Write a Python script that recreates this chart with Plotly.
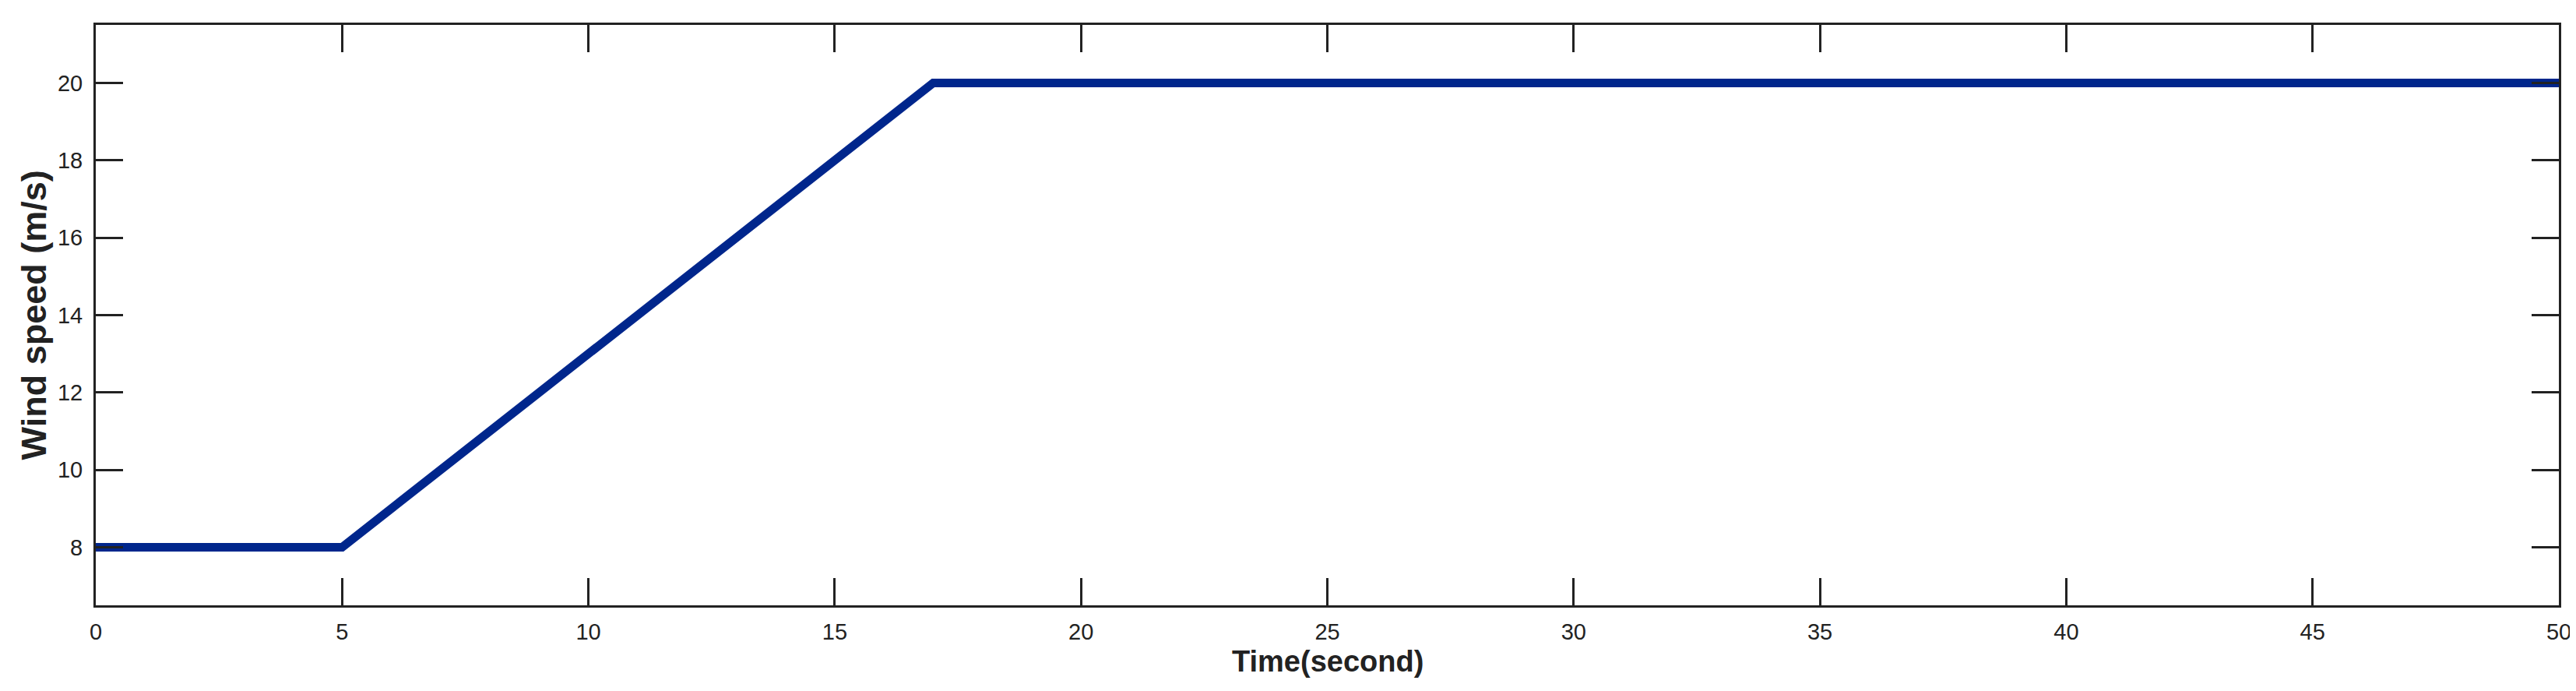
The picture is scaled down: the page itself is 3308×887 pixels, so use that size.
import plotly.graph_objects as go

# wind speed profile: flat, ramp, flat
time_s = [0, 5, 17, 50]
wind_speed = [8, 8, 20, 20]

x_ticks = [0, 5, 10, 15, 20, 25, 30, 35, 40, 45, 50]
y_ticks = [8, 10, 12, 14, 16, 18, 20]

AXIS_COLOR = "#222222"
LINE_COLOR = "#00268C"
FONT = "Liberation Sans, Arial, sans-serif"

fig = go.Figure()
fig.add_trace(go.Scatter(
    x=time_s, y=wind_speed,
    mode="lines",
    line=dict(color=LINE_COLOR, width=11),
    showlegend=False,
    hoverinfo="skip",
))

axis_common = dict(
    showline=True, linecolor=AXIS_COLOR, linewidth=3,
    mirror="ticks",
    ticks="inside", ticklen=35, tickwidth=3, tickcolor=AXIS_COLOR,
    showgrid=False, zeroline=False,
    tickfont=dict(family=FONT, size=29, color=AXIS_COLOR),
)

fig.update_xaxes(range=[0, 50], tickvals=x_ticks, ticklabelstandoff=6, **axis_common)
fig.update_yaxes(range=[6.5, 21.5], tickvals=y_ticks, ticklabelstandoff=8, **axis_common)

fig.update_layout(
    width=3308, height=887,
    margin=dict(l=115, r=30, t=24, b=118),
    paper_bgcolor="white",
    plot_bgcolor="white",
    annotations=[
        dict(text="<b>Time(second)</b>", x=0.5, y=-0.097, xref="paper", yref="paper",
             xanchor="center", yanchor="middle", showarrow=False,
             font=dict(family=FONT, size=38, color=AXIS_COLOR)),
        dict(text="<b>Wind speed (m/s)</b>", x=-0.025, y=0.5, xref="paper", yref="paper",
             xanchor="center", yanchor="middle", showarrow=False, textangle=-90,
             font=dict(family=FONT, size=45, color=AXIS_COLOR)),
    ],
)

fig.write_html("out.html")
